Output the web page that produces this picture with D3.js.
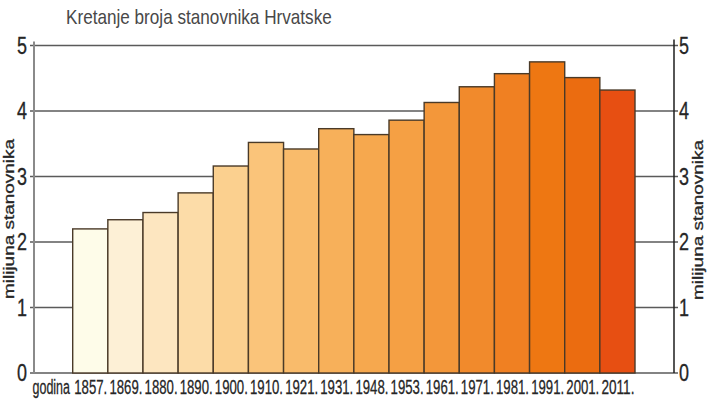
<!DOCTYPE html>
<html>
<head>
<meta charset="utf-8">
<script src="https://cdn.jsdelivr.net/npm/d3@7/dist/d3.min.js"></script>
<style>
  html, body { margin: 0; padding: 0; background: #fff; }
  svg { display: block; }
  text { font-family: "Liberation Sans", Arial, sans-serif; fill: #262626; }
  text.heavy { stroke: #262626; stroke-width: 0.3; }
</style>
</head>
<body>
<svg id="chart" width="707" height="403"></svg>
<script>
// ---- data ----
const years = ["1857", "1869", "1880", "1890", "1900", "1910", "1921", "1931",
               "1948", "1953", "1961", "1971", "1981", "1991", "2001", "2011"];
const population = [2.20, 2.34, 2.45, 2.75, 3.16, 3.52, 3.42, 3.73,
                    3.64, 3.86, 4.13, 4.37, 4.57, 4.75, 4.51, 4.32];
const yTicks = [0, 1, 2, 3, 4, 5];
const titleText = "Kretanje broja stanovnika Hrvatske";
const axisTitle = "milijuna stanovnika";
const xPrefix = "godina";

// ---- styles ----
const barColors = ["#fefce9", "#fdf0d6", "#fde6c0", "#fcdca8", "#fbd08f", "#fac47a",
                   "#f9bb6b", "#f7b05a", "#f6a84e", "#f5a044", "#f3973a", "#f18a2c",
                   "#f08022", "#ee7712", "#eb6c10", "#e74f12"];

const svg = d3.select("#chart");
const x = d3.scaleBand().domain(years).range([72.7, 635]).padding(0);
const y = d3.scaleLinear().domain([0, 5]).range([373, 45.5]);
const leftX = 34, rightX = 674;

// condensed text helper: place text at (tx,ty), rotate, squeeze horizontally to a target width
function condensed(sel, tx, ty, targetW, rot) {
  sel.each(function(d, i) {
    const node = this;
    const w = node.getComputedTextLength();
    const px = typeof tx === "function" ? tx(d, i) : tx;
    const py = typeof ty === "function" ? ty(d, i) : ty;
    const tw = typeof targetW === "function" ? targetW(d, i) : targetW;
    const sx = w > 0 ? tw / w : 1;
    d3.select(node).attr("transform",
      `translate(${px},${py})` + (rot ? ` rotate(${rot})` : "") + ` scale(${sx},1)`);
  });
}

// gridlines (behind bars)
svg.append("g").selectAll("line").data(yTicks).join("line")
  .attr("x1", leftX - 4).attr("x2", rightX + 4)
  .attr("y1", d => y(d)).attr("y2", d => y(d))
  .attr("stroke", "#5a5a5a").attr("stroke-width", 1.6);

// left axis line
svg.append("line").attr("x1", leftX).attr("x2", leftX)
  .attr("y1", y(5) - 4).attr("y2", y(0))
  .attr("stroke", "#8a8a8a").attr("stroke-width", 2);
// right axis line
svg.append("line").attr("x1", rightX).attr("x2", rightX)
  .attr("y1", y(5) - 6).attr("y2", y(0))
  .attr("stroke", "#1e1e1e").attr("stroke-width", 1.5);

// bars
svg.append("g").selectAll("rect").data(years).join("rect")
  .attr("x", d => x(d))
  .attr("y", (d, i) => y(population[i]))
  .attr("width", x.bandwidth())
  .attr("height", (d, i) => y(0) - y(population[i]))
  .attr("fill", (d, i) => barColors[i])
  .attr("stroke", "#4a3a28").attr("stroke-width", 1.4);

// y tick labels left / right
svg.append("g").selectAll("text").data(yTicks).join("text")
  .attr("class", "heavy")
  .attr("text-anchor", "end").attr("font-size", 23)
  .text(d => d)
  .call(condensed, 27, d => y(d) + 8, 10);
svg.append("g").selectAll("text").data(yTicks).join("text")
  .attr("class", "heavy")
  .attr("text-anchor", "start").attr("font-size", 23)
  .text(d => d)
  .call(condensed, 679, d => y(d) + 8, 10);

// x labels
svg.append("g").selectAll("text").data(years).join("text")
  .attr("class", "heavy")
  .attr("text-anchor", "middle").attr("font-size", 21)
  .text(d => d + ".")
  .call(condensed, d => x(d) + x.bandwidth() / 2 + 0.5, 394, 33);
svg.append("text")
  .attr("class", "heavy")
  .attr("font-size", 21)
  .text(xPrefix)
  .call(condensed, 32.5, 394, 37.5);

// title
svg.append("text")
  .attr("font-size", 21).style("fill", "#484848")
  .text(titleText)
  .call(condensed, 66, 24, 266);

// axis titles
svg.append("text")
  .attr("class", "heavy")
  .attr("text-anchor", "middle").attr("font-size", 15)
  .text(axisTitle)
  .call(condensed, 13.5, 219, 160, -90);
svg.append("text")
  .attr("class", "heavy")
  .attr("text-anchor", "middle").attr("font-size", 15)
  .text(axisTitle)
  .call(condensed, 702.5, 220, 160, -90);
</script>
</body>
</html>
